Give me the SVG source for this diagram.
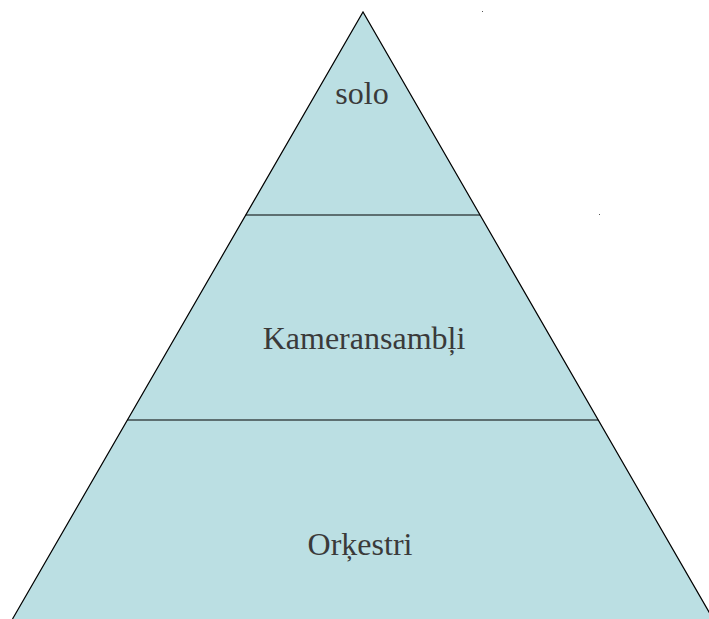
<svg xmlns="http://www.w3.org/2000/svg" width="709" height="619" viewBox="0 0 709 619">
<style>
.tier{fill:#bbdfe3;stroke:none}
.edge{stroke:#000;stroke-width:1.2;fill:none}
.lbl{font-family:"Liberation Serif","Times New Roman",serif;font-size:32px;fill:#3a3a3a;text-anchor:middle}
</style>
<rect width="709" height="619" fill="#fff"/>
<g id="node-solo">
<polygon class="tier" points="363,12 245.7,215 480,215"/>
<text class="lbl" x="362" y="104">solo</text>
</g>
<g id="node-kameransambli">
<polygon class="tier" points="245.7,215 480,215 598.2,420 127.4,420"/>
<text class="lbl" x="364" y="349">Kameransambļi</text>
</g>
<g id="node-orkestri">
<polygon class="tier" points="127.4,420 598.2,420 713,619 12.5,619"/>
<text class="lbl" x="360" y="555">Orķestri</text>
</g>
<g id="connectors">
<polyline class="edge" points="12.5,619 363,12 713,619"/>
<line class="edge" x1="245.7" y1="215" x2="480" y2="215"/>
<line class="edge" x1="127.4" y1="420" x2="598.2" y2="420"/>
</g>
<rect x="482" y="11" width="1" height="1" fill="#555"/>
<rect x="599" y="214" width="1" height="1" fill="#555"/>
</svg>
